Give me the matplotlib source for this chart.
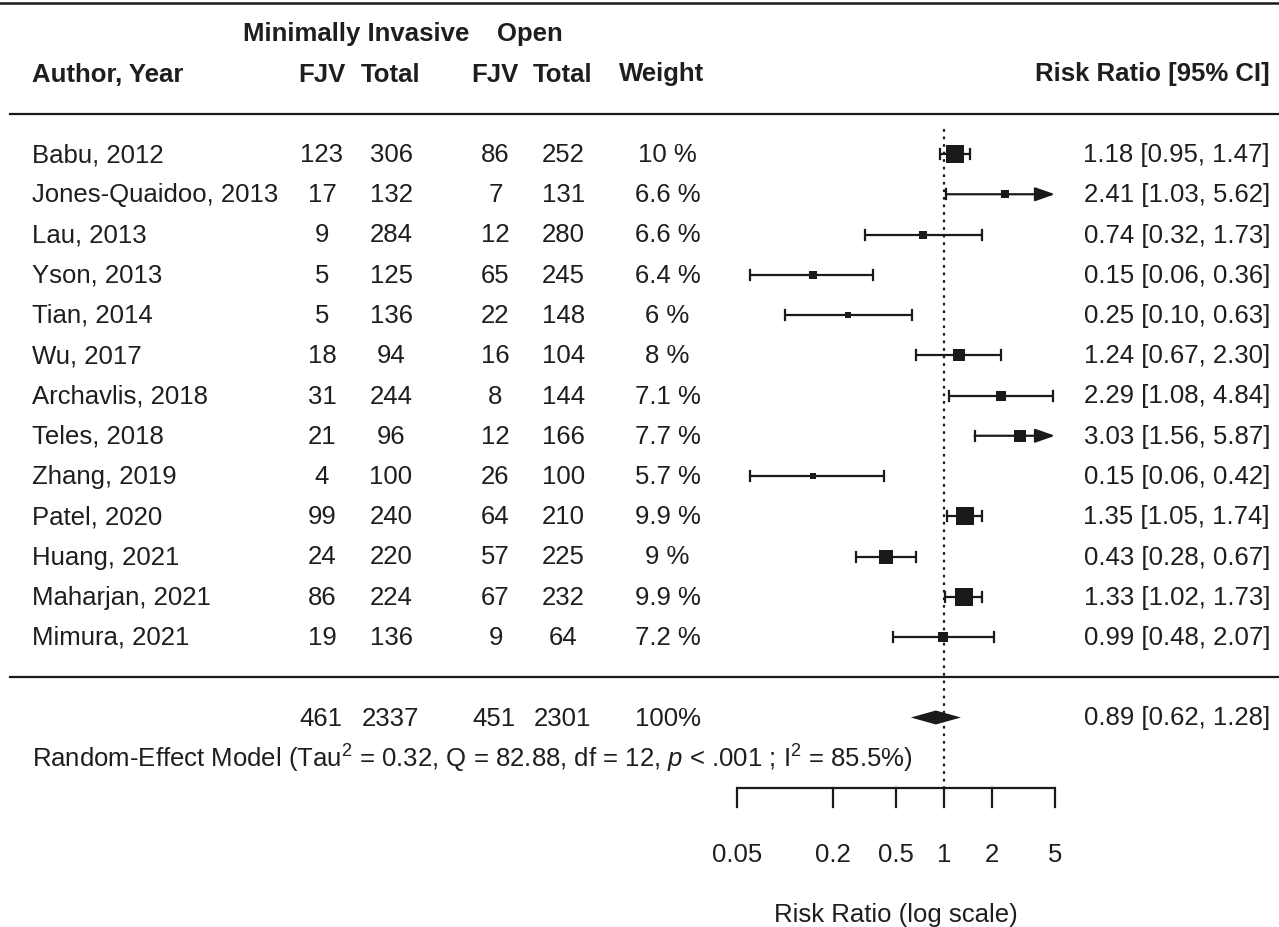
import numpy as np
import matplotlib
matplotlib.use("Agg")
import matplotlib.pyplot as plt
import matplotlib.transforms as mtransforms

plt.rcParams["font.family"] = ["Liberation Sans", "DejaVu Sans"]
plt.rcParams["mathtext.fontset"] = "custom"
plt.rcParams["mathtext.rm"] = "Liberation Sans"
plt.rcParams["mathtext.it"] = "Liberation Sans:italic"
plt.rcParams["mathtext.default"] = "regular"

# ---- study data ----
authors = ["Babu, 2012", "Jones-Quaidoo, 2013", "Lau, 2013", "Yson, 2013",
           "Tian, 2014", "Wu, 2017", "Archavlis, 2018", "Teles, 2018",
           "Zhang, 2019", "Patel, 2020", "Huang, 2021", "Maharjan, 2021",
           "Mimura, 2021"]
mi_fjv = [123, 17, 9, 5, 5, 18, 31, 21, 4, 99, 24, 86, 19]
mi_total = [306, 132, 284, 125, 136, 94, 244, 96, 100, 240, 220, 224, 136]
open_fjv = [86, 7, 12, 65, 22, 16, 8, 12, 26, 64, 57, 67, 9]
open_total = [252, 131, 280, 245, 148, 104, 144, 166, 100, 210, 225, 232, 64]
weights = [10, 6.6, 6.6, 6.4, 6, 8, 7.1, 7.7, 5.7, 9.9, 9, 9.9, 7.2]
rr = [1.18, 2.41, 0.74, 0.15, 0.25, 1.24, 2.29, 3.03, 0.15, 1.35, 0.43, 1.33, 0.99]
ci_low = [0.95, 1.03, 0.32, 0.06, 0.10, 0.67, 1.08, 1.56, 0.06, 1.05, 0.28, 1.02, 0.48]
ci_high = [1.47, 5.62, 1.73, 0.36, 0.63, 2.30, 4.84, 5.87, 0.42, 1.74, 0.67, 1.73, 2.07]

# ---- pooled estimate ----
pooled_rr, pooled_low, pooled_high = 0.89, 0.62, 1.28
model_text = ("Random-Effect Model (Tau$^2$ = 0.32, Q = 82.88, df = 12, "
              "$\\mathit{p}$ < .001 ; I$^2$ = 85.5%)")

axis_ticks = [0.05, 0.2, 0.5, 1, 2, 5]
axis_ticklabels = ["0.05", "0.2", "0.5", "1", "2", "5"]

W, H = 1279, 928
fig = plt.figure(figsize=(W / 100, H / 100), dpi=100)
ax = fig.add_axes([0, 0, 1, 1])
ax.set_xscale("log")
ax.axis("off")

# log axis: 0.05 at px 737, 5 at px 1055 -> 159 px per decade
px_per_dec = (1055 - 737) / 2.0
xl = np.log10(0.05) - 737 / px_per_dec
xr = np.log10(5) + (W - 1055) / px_per_dec
ax.set_xlim(10 ** xl, 10 ** xr)

# rows: first study at px 155, spacing 40.25 px
row_px = 40.25
y0 = 155
ax.set_ylim((H - y0) / row_px, -y0 / row_px)

alim = (axis_ticks[0], axis_ticks[-1])
fs = 18.5
tc = "#1e1e1e"
lc = "#1a1a1a"
lw = 1.6

colx = lambda px: px / W
tr = mtransforms.blended_transform_factory(ax.transAxes, ax.transData)
left = 32

rows = np.arange(len(authors))
summary_row = len(authors) + 1

# ---- header ----
ax.text(colx(356), -3, "Minimally Invasive", transform=tr, ha="center", va="center",
        fontsize=fs, fontweight="bold", color=tc)
ax.text(colx(530), -3, "Open", transform=tr, ha="center", va="center",
        fontsize=fs, fontweight="bold", color=tc)
ax.text(colx(left), -2, "Author, Year", transform=tr, ha="left", va="center",
        fontsize=fs, fontweight="bold", color=tc)
for xp, lab in [(322, "FJV"), (391, "Total"), (495, "FJV"), (563, "Total"), (662, "Weight")]:
    ax.text(colx(xp), -2, lab, transform=tr, ha="center", va="center",
            fontsize=fs, fontweight="bold", color=tc)
ax.text(colx(1270), -2, "Risk Ratio [95% CI]", transform=tr, ha="right", va="center",
        fontsize=fs, fontweight="bold", color=tc)

# ---- rules ----
ax.axhline(-3.76, xmin=0, xmax=1, color=lc, lw=1.8)
ax.axhline(-1.0, xmin=colx(10), xmax=1, color=lc, lw=1.6)
ax.axhline(len(authors), xmin=colx(10), xmax=1, color=lc, lw=1.6)

# ---- study rows ----
w = np.array(weights)
side_px = 5.5 + 12.0 * (w - w.min()) / (w.max() - w.min())
cap = 5.0 / row_px
for i in rows:
    y = rows[i]
    ax.text(colx(left), y, authors[i], transform=tr, ha="left", va="center", fontsize=fs, color=tc)
    ax.text(colx(322), y, str(mi_fjv[i]), transform=tr, ha="center", va="center", fontsize=fs, color=tc)
    ax.text(colx(391), y, str(mi_total[i]), transform=tr, ha="center", va="center", fontsize=fs, color=tc)
    ax.text(colx(495.5), y, str(open_fjv[i]), transform=tr, ha="center", va="center", fontsize=fs, color=tc)
    ax.text(colx(563.5), y, str(open_total[i]), transform=tr, ha="center", va="center", fontsize=fs, color=tc)
    ax.text(colx(667.5), y, f"{weights[i]:g} %", transform=tr, ha="center", va="center", fontsize=fs, color=tc)
    ax.text(colx(1270), y, f"{rr[i]:.2f} [{ci_low[i]:.2f}, {ci_high[i]:.2f}]",
            transform=tr, ha="right", va="center", fontsize=fs, color=tc)

    lo = max(ci_low[i], alim[0])
    hi = ci_high[i]
    if hi > alim[1]:
        ax.annotate("", xy=(alim[1], y), xytext=(lo, y),
                    arrowprops=dict(arrowstyle="-|>,head_length=1.2,head_width=0.42",
                                    lw=lw, color=lc, shrinkA=0, shrinkB=0))
    else:
        ax.plot([lo, hi], [y, y], color=lc, lw=lw, solid_capstyle="butt")
        ax.plot([hi, hi], [y - cap, y + cap], color=lc, lw=lw)
    if ci_low[i] >= alim[0]:
        ax.plot([lo, lo], [y - cap, y + cap], color=lc, lw=lw)
    ax.plot([rr[i]], [y], marker="s", color=lc, markersize=side_px[i] * 0.72,
            markeredgewidth=0, zorder=5)

# ---- summary row ----
ax.text(colx(321), summary_row, str(sum(mi_fjv)), transform=tr, ha="center", va="center", fontsize=fs, color=tc)
ax.text(colx(390.5), summary_row, str(sum(mi_total)), transform=tr, ha="center", va="center", fontsize=fs, color=tc)
ax.text(colx(494), summary_row, str(sum(open_fjv)), transform=tr, ha="center", va="center", fontsize=fs, color=tc)
ax.text(colx(562.5), summary_row, str(sum(open_total)), transform=tr, ha="center", va="center", fontsize=fs, color=tc)
ax.text(colx(668), summary_row, f"{round(sum(weights)):.0f}%", transform=tr, ha="center", va="center", fontsize=fs, color=tc)
ax.text(colx(1270), summary_row, f"{pooled_rr:.2f} [{pooled_low:.2f}, {pooled_high:.2f}]",
        transform=tr, ha="right", va="center", fontsize=fs, color=tc)
dh = 7.0 / row_px
ax.fill([pooled_low, pooled_rr, pooled_high, pooled_rr],
        [summary_row, summary_row - dh, summary_row, summary_row + dh],
        color=lc, lw=0, zorder=5)
ax.text(colx(left), summary_row + 1, model_text, transform=tr, ha="left", va="center",
        fontsize=fs, color=tc)

# ---- x axis ----
axis_y = summary_row + 1.75
tick_len = 19.0 / row_px
ax.plot([1, 1], [-0.62, axis_y], color=lc, lw=lw, ls=(0, (1.2, 2.2)))
ax.plot([alim[0], alim[1]], [axis_y, axis_y], color=lc, lw=lw, solid_capstyle="butt")
for t, lab in zip(axis_ticks, axis_ticklabels):
    ax.plot([t, t], [axis_y, axis_y + tick_len], color=lc, lw=lw)
    ax.text(t, axis_y + 1.64, lab, ha="center", va="center", fontsize=fs, color=tc)
ax.text(np.sqrt(alim[0] * alim[1]), axis_y + 3.13, "Risk Ratio (log scale)",
        ha="center", va="center", fontsize=fs, color=tc)

fig.savefig("out.png", dpi=100, facecolor="white")
